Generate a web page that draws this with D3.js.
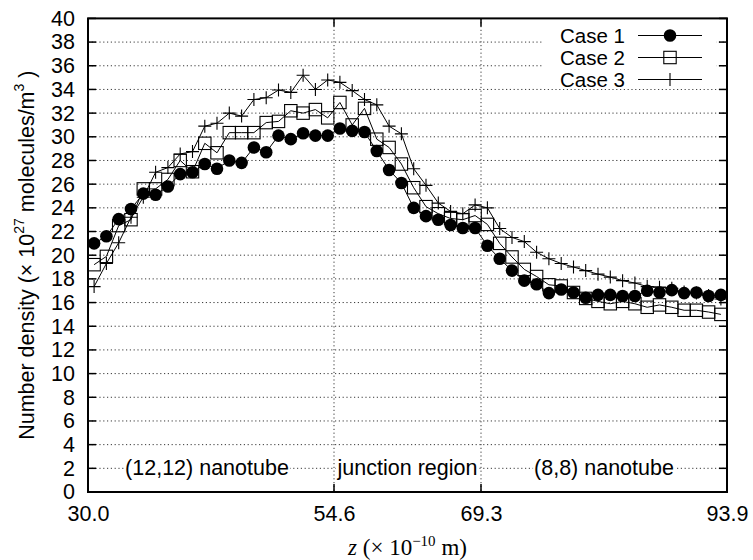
<!DOCTYPE html>
<html>
<head>
<meta charset="utf-8">
<script src="https://cdn.jsdelivr.net/npm/d3@7"></script>
<style>
  html, body { margin: 0; padding: 0; background: #fff; }
  svg { display: block; }
  text { font-family: "Liberation Sans", Arial, sans-serif; fill: #000; }
</style>
</head>
<body>
<svg id="chart" width="753" height="560"></svg>
<script>
// ---- data ----
const zValues = [30.61, 31.84, 33.07, 34.30, 35.53, 36.76, 37.99, 39.22, 40.45, 41.68,
  42.90, 44.13, 45.36, 46.59, 47.82, 49.05, 50.28, 51.51, 52.74, 53.97,
  55.19, 56.42, 57.65, 58.88, 60.11, 61.34, 62.57, 63.80, 65.03, 66.26,
  67.48, 68.71, 69.94, 71.17, 72.40, 73.63, 74.86, 76.09, 77.32, 78.55,
  79.77, 81.00, 82.23, 83.46, 84.69, 85.92, 87.15, 88.38, 89.61, 90.84,
  92.06, 93.29];
const case1 = [21.0, 21.6, 23.05, 23.9, 25.2, 25.1, 25.8, 26.85, 27.0, 27.7,
  27.3, 28.0, 27.8, 29.1, 28.7, 30.1, 29.8, 30.3, 30.1, 30.1,
  30.7, 30.5, 30.4, 28.8, 27.2, 26.1, 24.0, 23.3, 23.0, 22.55,
  22.3, 22.3, 20.8, 19.7, 18.7, 17.85, 17.55, 16.8, 17.1, 16.85,
  16.4, 16.65, 16.65, 16.55, 16.55, 17.0, 16.85, 17.05, 16.8, 16.85,
  16.55, 16.65];
const case2 = [19.2, 19.9, 22.5, 23.0, 25.6, 25.6, 26.4, 28.0, 27.05, 29.45,
  28.65, 30.35, 30.35, 30.35, 31.2, 31.3, 32.2, 32.0, 32.3, 31.6,
  32.9, 31.0, 32.4, 29.8, 29.1, 27.7, 25.7, 24.1, 23.5, 23.1,
  23.0, 23.35, 22.6, 21.0, 19.85, 18.8, 18.2, 17.5, 17.4, 16.85,
  16.35, 16.1, 15.9, 16.1, 15.9, 15.6, 15.8, 15.6, 15.35, 15.35,
  15.2, 15.0];
const case3 = [17.35, 19.3, 21.05, 23.2, 24.9, 27.0, 27.4, 28.55, 28.75, 30.9,
  31.15, 32.0, 31.75, 33.15, 33.3, 33.95, 33.75, 35.2, 34.0, 34.8,
  34.6, 33.9, 33.15, 32.7, 30.9, 30.25, 27.3, 25.9, 24.4, 23.7,
  23.5, 24.25, 24.0, 22.25, 21.5, 21.15, 20.25, 19.7, 19.3, 19.0,
  18.7, 18.4, 18.15, 17.85, 17.65, 17.35, 17.3, 17.2, 16.9, 16.8,
  16.6, 16.3];
const seriesNames = ["Case 1", "Case 2", "Case 3"];
const xTickValues = [30.0, 54.6, 69.3, 93.9];
const xGridValues = [54.6, 69.3];
const yTickValues = [0,2,4,6,8,10,12,14,16,18,20,22,24,26,28,30,32,34,36,38,40];
const regionLabels = ["(12,12) nanotube", "junction region", "(8,8) nanotube"];
const regionCenters = [41.9, 61.95, 81.6];

// ---- layout ----
const W = 753, H = 560;
const L = 88, R = 727, T = 18.4, B = 492;
const svg = d3.select("#chart");
const x = d3.scaleLinear().domain([30, 93.9]).range([L, R]);
const y = d3.scaleLinear().domain([0, 40]).range([B, T]);

// grid
const grid = svg.append("g").attr("stroke", "#222").attr("stroke-width", 0.9)
  .attr("stroke-dasharray", "1.2,2.6");
grid.selectAll("line.h").data(yTickValues.filter(v => v > 0 && v < 40)).join("line")
  .attr("x1", L).attr("x2", R).attr("y1", d => y(d)).attr("y2", d => y(d));
grid.selectAll("line.v").data(xGridValues).join("line")
  .attr("y1", T).attr("y2", B).attr("x1", d => x(d)).attr("x2", d => x(d));

// region labels with opaque background
const reg = svg.append("g");
regionLabels.forEach((t, i) => {
  const g = reg.append("g");
  const txt = g.append("text").attr("x", x(regionCenters[i])).attr("y", y(2))
    .attr("text-anchor", "middle").attr("dominant-baseline", "central")
    .attr("font-size", 21.5).text(t);
  const bb = txt.node().getBBox();
  g.insert("rect", "text").attr("x", bb.x - 1).attr("y", bb.y + 2)
    .attr("width", bb.width + 2).attr("height", bb.height - 4).attr("fill", "#fff");
});

// legend background
svg.append("rect").attr("x", 543).attr("y", 22).attr("width", 173).attr("height", 67)
  .attr("fill", "#fff");

// series
const all = [case1, case2, case3];
const line = d3.line().x((d, i) => x(zValues[i])).y(d => y(d));
function marker(g, kind, cx, cy) {
  if (kind === 0) {
    g.append("circle").attr("cx", cx).attr("cy", cy).attr("r", 6.3).attr("fill", "#000");
  } else if (kind === 1) {
    g.append("rect").attr("x", cx - 6.2).attr("y", cy - 6.2).attr("width", 12.4).attr("height", 12.4)
      .attr("fill", "none").attr("stroke", "#000").attr("stroke-width", 1.1);
  } else {
    g.append("path").attr("d", `M${cx-6.5},${cy}H${cx+6.5}M${cx},${cy-6.5}V${cy+6.5}`)
      .attr("stroke", "#000").attr("stroke-width", 1.1).attr("fill", "none");
  }
}
all.forEach((vals, k) => {
  const g = svg.append("g");
  g.append("path").attr("d", line(vals)).attr("fill", "none")
    .attr("stroke", "#000").attr("stroke-width", 1);
  vals.forEach((v, i) => marker(g, k, x(zValues[i]), y(v)));
});

// legend
const legY = [35.5, 57.5, 79.5];
seriesNames.forEach((n, k) => {
  svg.append("text").attr("x", 625).attr("y", legY[k]).attr("text-anchor", "end")
    .attr("dominant-baseline", "central").attr("font-size", 20.5).text(n);
  const g = svg.append("g");
  g.append("line").attr("x1", 638).attr("x2", 702).attr("y1", legY[k]).attr("y2", legY[k])
    .attr("stroke", "#000").attr("stroke-width", 1);
  marker(g, k, 670, legY[k]);
});

// border and ticks
svg.append("rect").attr("x", L).attr("y", T).attr("width", R - L).attr("height", B - T)
  .attr("fill", "none").attr("stroke", "#000").attr("stroke-width", 2);
const tk = svg.append("g").attr("stroke", "#000").attr("stroke-width", 1.5);
yTickValues.forEach(v => {
  tk.append("line").attr("x1", L).attr("x2", L + 8).attr("y1", y(v)).attr("y2", y(v));
  tk.append("line").attr("x1", R - 8).attr("x2", R).attr("y1", y(v)).attr("y2", y(v));
});
xTickValues.forEach(v => {
  tk.append("line").attr("x1", x(v)).attr("x2", x(v)).attr("y1", B).attr("y2", B - 8);
  tk.append("line").attr("x1", x(v)).attr("x2", x(v)).attr("y1", T).attr("y2", T + 8);
});

// axes labels via d3 axes (text only)
const yAxis = svg.append("g").attr("transform", `translate(${L},0)`)
  .call(d3.axisLeft(y).tickValues(yTickValues).tickSize(0).tickPadding(13).tickFormat(d3.format("d")));
yAxis.select(".domain").remove();
yAxis.selectAll("text").attr("font-size", 21.5).attr("font-family", "Liberation Sans, Arial, sans-serif");
const xAxis = svg.append("g").attr("transform", `translate(0,${B})`)
  .call(d3.axisBottom(x).tickValues(xTickValues).tickSize(0).tickPadding(14).tickFormat(d3.format(".1f")));
xAxis.select(".domain").remove();
xAxis.selectAll("text").attr("font-size", 21.5).attr("font-family", "Liberation Sans, Arial, sans-serif");

// y label
const yl = svg.append("text").attr("transform", `translate(27,${(T + B) / 2}) rotate(-90)`)
  .attr("text-anchor", "middle").attr("dominant-baseline", "central").attr("font-size", 21.5);
yl.append("tspan").text("Number density (× 10");
yl.append("tspan").attr("font-size", 14).attr("dy", -8).text("27");
yl.append("tspan").attr("dy", 8).text(" molecules/m");
yl.append("tspan").attr("font-size", 14).attr("dy", -8).text("3");
yl.append("tspan").attr("dy", 8).text(" )");

// x label
const xl = svg.append("text").attr("x", (L + R) / 2).attr("y", 555).attr("text-anchor", "middle")
  .style("font-family", "'Liberation Serif', 'Times New Roman', serif").attr("font-size", 23);
xl.append("tspan").attr("font-style", "italic").text("z");
xl.append("tspan").text(" (× 10");
xl.append("tspan").attr("font-size", 15).attr("dy", -9).text("−10");
xl.append("tspan").attr("dy", 9).text(" m)");
</script>
</body>
</html>
